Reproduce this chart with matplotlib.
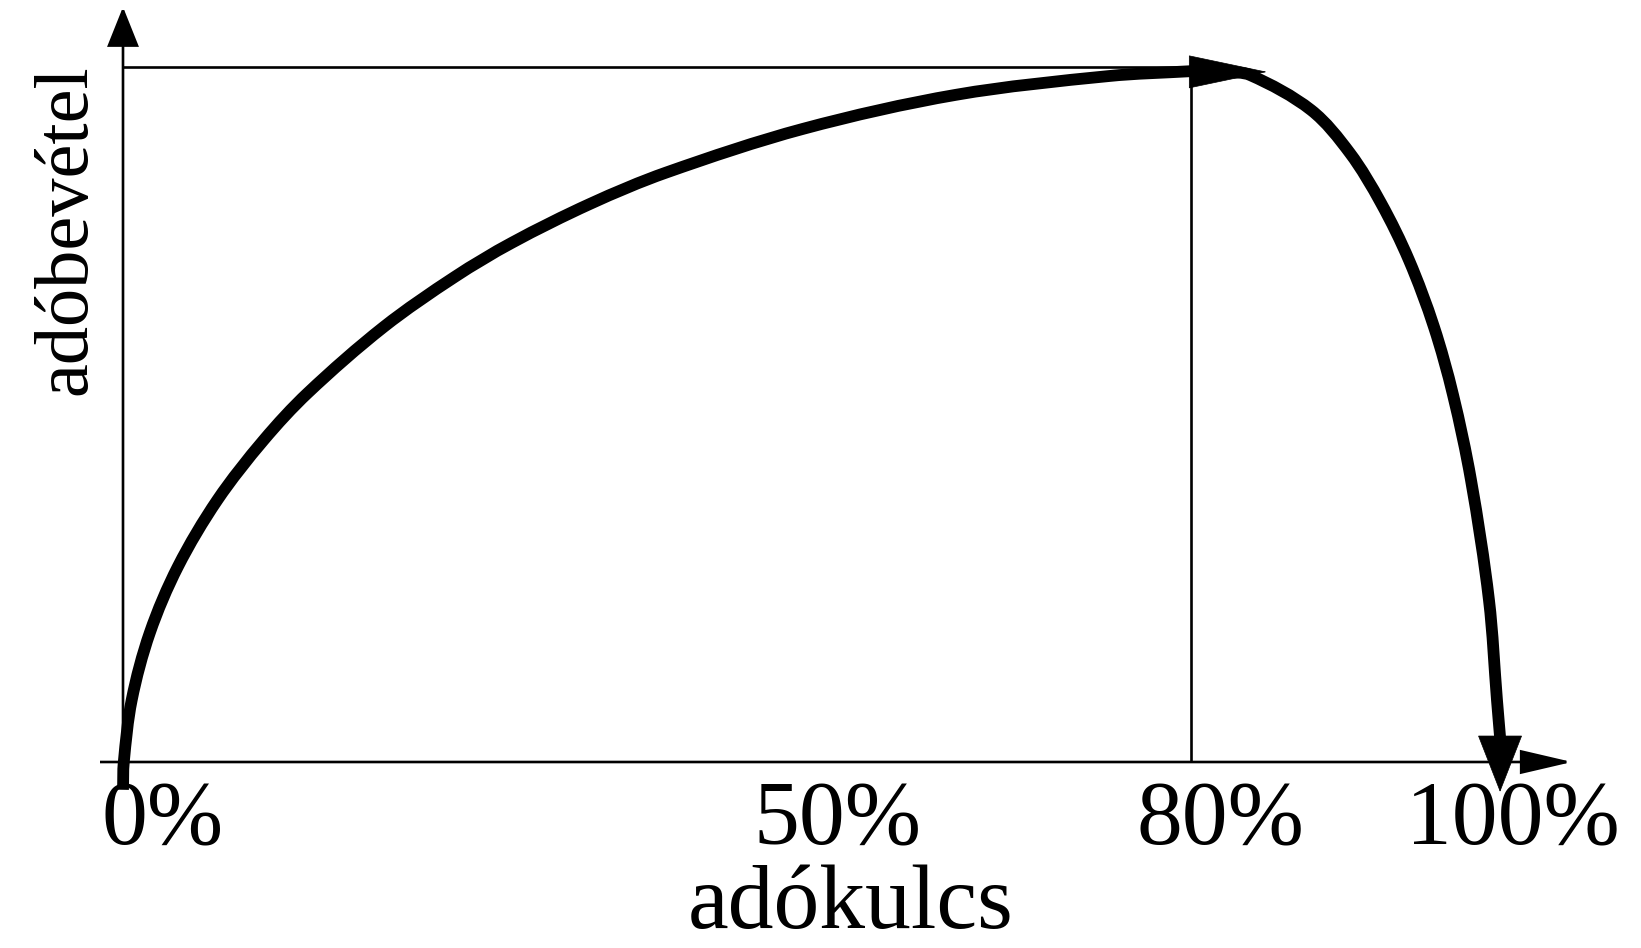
import numpy as np
import matplotlib
matplotlib.use("Agg")
from matplotlib import pyplot as plt
from matplotlib.patches import FancyArrowPatch, PathPatch
from matplotlib.path import Path

# Laffer curve: tax rate (%) vs tax revenue (peak = 100)
rise_x = [0.0, 0.06, 0.65, 2.01, 4.11, 7.07, 10.53, 13.84, 19.53, 24.85,
          29.12, 34.98, 40.67, 50.94, 62.40, 73.86, 80.0]
rise_y = [-4.0, 0.0, 8.9, 18.6, 28.1, 37.7, 46.3, 53.1, 62.6, 69.8,
          74.7, 80.3, 84.8, 91.1, 96.0, 98.7, 99.4]
fall_x = [82.55, 84.42, 89.0, 91.91, 94.24, 96.33, 98.20, 99.63, 100.97,
          102.32, 102.92, 103.15]
fall_y = [99.3, 98.85, 93.8, 87.6, 80.4, 72.2, 62.6, 52.8, 40.6,
          23.3, 8.9, 3.6]
peak_rate = 80
peak_rev = 100

tick_labels = ["0%", "50%", "80%", "100%"]
label_x = [3.0, 53.5, 82.2, 104.1]
xlabel = "adókulcs"
ylabel = "adóbevétel"

W, H = 1641, 948
fig = plt.figure(figsize=(W / 100, H / 100), dpi=100)
ax = fig.add_axes([0, 0, 1, 1])
# pixel mapping: x=0 -> 123px, x=80 -> 1191px ; y=0 -> 762px, y=100 -> 67px
sx = (1191 - 123) / 80.0
sy = (762 - 67) / 100.0
ax.set_xlim(-123 / sx, (W - 123) / sx)
ax.set_ylim((762 - H) / sy, 762 / sy)
ax.axis("off")

px = 72 / 100.0  # points per pixel


def arrow(p0, p1, hl, hw, lw):
    a = FancyArrowPatch(p0, p1, arrowstyle="-|>,head_length=%g,head_width=%g" % (hl * px, hw * px),
                        mutation_scale=1, shrinkA=0, shrinkB=0, color="black", lw=lw,
                        joinstyle="miter", capstyle="butt")
    ax.add_patch(a)


def smooth_path(xs, ys):
    # smooth curve through the read points (chord-length hermite -> bezier)
    p = np.column_stack([np.asarray(xs) * sx, np.asarray(ys) * sy])
    d = np.hypot(*np.diff(p, axis=0).T)
    t = np.concatenate([[0], np.cumsum(d)])
    m = np.zeros_like(p)
    m[1:-1] = (p[2:] - p[:-2]) / (t[2:] - t[:-2])[:, None]
    m[0] = (p[1] - p[0]) / d[0]
    m[-1] = (p[-1] - p[-2]) / d[-1]
    verts = [p[0]]
    codes = [Path.MOVETO]
    for i in range(len(p) - 1):
        h = d[i] / 3.0
        verts += [p[i] + m[i] * h, p[i + 1] - m[i + 1] * h, p[i + 1]]
        codes += [Path.CURVE4] * 3
    verts = np.array(verts) / [sx, sy]
    return Path(verts, codes)


thin = 1.9
# axes with arrows
arrow((-23 / sx, 0), ((1572 - 123) / sx, 0), 45, 10.5, thin)
arrow((0, 0), (0, (762 - 7) / sy), 35, 14, thin)

# guide lines to the peak
ax.plot([0, peak_rate], [peak_rev, peak_rev], color="black", lw=thin, solid_capstyle="butt")
ax.plot([peak_rate, peak_rate], [0, peak_rev], color="black", lw=thin, solid_capstyle="butt")

# curve
for xs, ys in [(rise_x, rise_y), (fall_x, fall_y)]:
    ax.add_patch(PathPatch(smooth_path(xs, ys), fill=False, edgecolor="black", lw=8.5,
                           capstyle="butt", joinstyle="round"))

# arrowheads on the curve
arrow((rise_x[-1], 99.3), (rise_x[-1] + 76 / sx, 99.3), 76, 16, 0.5)
arrow((fall_x[-1], fall_y[-1]), (fall_x[-1], fall_y[-1] - 55 / sy), 55, 21.5, 0.5)

font = "Liberation Serif"
for lx, lab in zip(label_x, tick_labels):
    ax.text(lx, -82 / sy, lab, ha="center", va="baseline", fontsize=66, family=font)
ax.text(54.5, -166 / sy, xlabel, ha="center", va="baseline", fontsize=66, family=font)
ax.text(-38 / sx, (762 - 230) / sy, ylabel, rotation=90, rotation_mode="anchor",
        ha="center", va="baseline", fontsize=55, family=font)

fig.savefig("out.png", dpi=100)
